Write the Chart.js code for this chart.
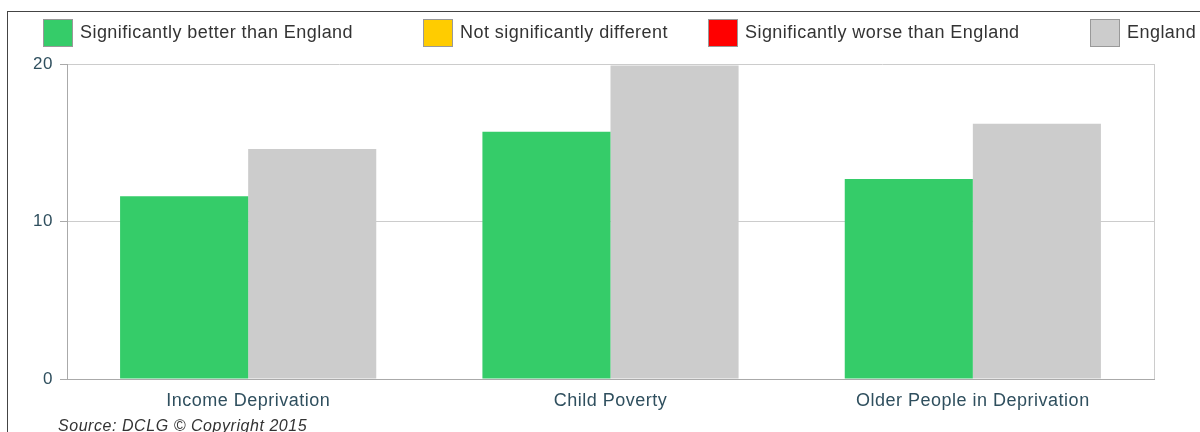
<!DOCTYPE html>
<html>
<head>
<meta charset="utf-8">
<script src="https://cdn.jsdelivr.net/npm/chart.js@4.4.1/dist/chart.umd.min.js"></script>
<style>
  html, body { margin: 0; padding: 0; background: #fff; overflow: hidden; }
  #wrap { position: relative; width: 1200px; height: 432px; }
  #frame { position: absolute; left: 7px; top: 11px; right: -10px; bottom: -10px;
           border-top: 1px solid #444; border-left: 1px solid #444; }
  #chart { position: absolute; left: 0; top: 0; }
</style>
</head>
<body>
<div id="wrap">
  <div id="frame"></div>
  <canvas id="chart" width="1200" height="432"></canvas>
</div>
<script>
// Indicator categories and values (%)
const categories = ['Income Deprivation', 'Child Poverty', 'Older People in Deprivation'];
const areaValues = [11.6, 15.7, 12.7];
const englandValues = [14.6, 19.9, 16.2];
const yTickValues = [0, 10, 20];

// Legend key
const legendLabels = ['Significantly better than England', 'Not significantly different',
                      'Significantly worse than England', 'England'];
const legendColours = ['#35cc69', '#ffcc00', '#ff0000', '#cccccc'];
const sourceNote = 'Source: DCLG \u00A9 Copyright 2015';

const FONT = "'Liberation Sans', Arial, sans-serif";
const AXIS_TEXT = '#2f4f5e';

// Slightly open letter spacing for all chart text
const textSpacing = {
  id: 'textSpacing',
  beforeLayout(chart) { chart.ctx.letterSpacing = '0.5px'; },
  beforeDraw(chart) { chart.ctx.letterSpacing = '0.5px'; }
};

// Legend row across the top, plus the source line under the axis
const legendRow = {
  id: 'legendRow',
  afterDraw(chart) {
    const ctx = chart.ctx;
    const starts = [43, 423, 708, 1090];
    ctx.save();
    ctx.letterSpacing = '0.45px';
    ctx.font = '18px ' + FONT;
    ctx.textBaseline = 'alphabetic';
    legendLabels.forEach((label, i) => {
      const x = starts[i];
      ctx.fillStyle = legendColours[i];
      ctx.fillRect(x, 19, 30, 28);
      ctx.strokeStyle = '#999';
      ctx.lineWidth = 1;
      ctx.strokeRect(x + 0.5, 19.5, 29, 27);
      ctx.fillStyle = '#333';
      ctx.fillText(label, x + 37, 38);
    });
    ctx.letterSpacing = '0.55px';
    ctx.font = 'italic 16px ' + FONT;
    ctx.fillStyle = '#333';
    ctx.fillText(sourceNote, 58, 431);
    ctx.restore();
  }
};

// Light right-hand edge of the plotting area
const plotEdge = {
  id: 'plotEdge',
  beforeDatasetsDraw(chart) {
    const { ctx, chartArea: a } = chart;
    ctx.save();
    ctx.strokeStyle = '#cccccc';
    ctx.lineWidth = 1;
    ctx.beginPath();
    ctx.moveTo(Math.round(a.right) + 0.5, a.top);
    ctx.lineTo(Math.round(a.right) + 0.5, a.bottom);
    ctx.stroke();
    ctx.restore();
  }
};

new Chart(document.getElementById('chart'), {
  type: 'bar',
  data: {
    labels: categories,
    datasets: [
      { label: legendLabels[0], data: areaValues, backgroundColor: legendColours[0],
        borderWidth: 0, categoryPercentage: 0.707, barPercentage: 1.0 },
      { label: legendLabels[3], data: englandValues, backgroundColor: legendColours[3],
        borderWidth: 0, categoryPercentage: 0.707, barPercentage: 1.0 }
    ]
  },
  options: {
    responsive: false,
    animation: false,
    layout: { padding: { left: 7, right: 46, top: 64, bottom: 0 } },
    plugins: { legend: { display: false }, tooltip: { enabled: false } },
    scales: {
      x: {
        afterFit(scale) { scale.height = 53; },
        grid: { display: true, drawOnChartArea: false, drawTicks: false },
        border: { display: true, color: '#aaaaaa', width: 1 },
        ticks: { color: AXIS_TEXT, font: { family: FONT, size: 18 }, padding: 11, maxRotation: 0 }
      },
      y: {
        min: 0, max: 20,
        afterFit(scale) { scale.width = 60; },
        afterBuildTicks(scale) { scale.ticks = yTickValues.map(v => ({ value: v })); },
        grid: { color: '#cccccc', tickColor: '#aaaaaa', tickLength: 7 },
        border: { display: true, color: '#aaaaaa', width: 1 },
        ticks: { color: AXIS_TEXT, font: { family: FONT, size: 17 }, padding: 7 }
      }
    }
  },
  plugins: [textSpacing, legendRow, plotEdge]
});
</script>
</body>
</html>
